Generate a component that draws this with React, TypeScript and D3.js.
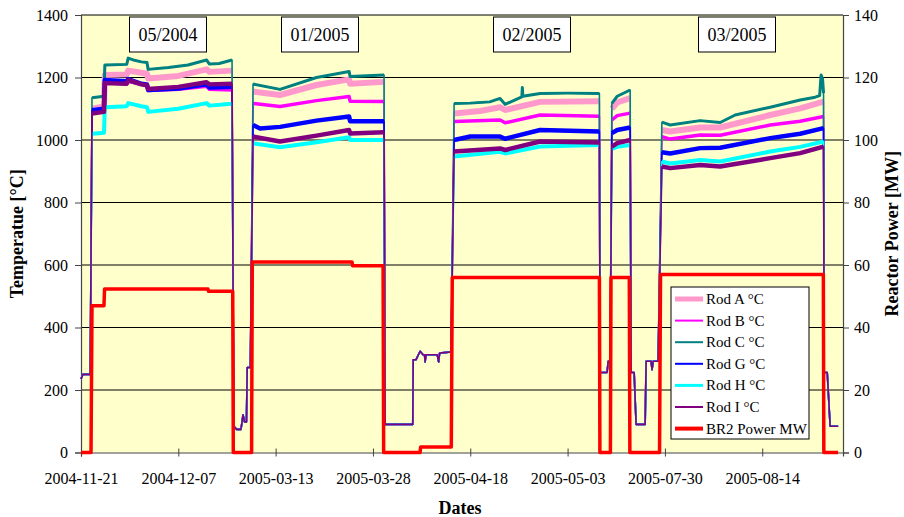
import React, {useRef, useEffect} from 'react';
import * as d3 from 'd3';

// x is the sample index of the logger, one date label every 100 samples
const dateLabels = ['2004-11-21', '2004-12-07', '2005-03-13', '2005-03-28', '2005-04-18', '2005-05-03', '2005-07-30', '2005-08-14'];
const tempTicks = [0, 200, 400, 600, 800, 1000, 1200, 1400];
const powerTicks = [0, 20, 40, 60, 80, 100, 120, 140];
const campaigns = ['05/2004', '01/2005', '02/2005', '03/2005'];

// periods with the reactor running
const cycles = [[11, 156], [176, 312], [383, 533], [545, 565], [596, 764]];

// reactor down: all rods read the same
const offline = [
    [0, 235], [2, 250], [9.5, 250],
    [157, 84], [160, 74], [164.4, 74], [166.5, 121], [168, 98], [170, 98], [170.8, 272], [174, 272],
    [312.5, 90], [340.9, 90], [341.4, 297], [344.3, 297], [348.4, 324], [351.5, 313], [353, 313], [353.6, 290], [354.5, 313],
    [366, 313], [367.5, 290], [368.5, 318], [380.3, 322],
    [533.4, 256], [540.6, 256], [541.7, 292], [543.7, 292],
    [565.3, 256], [568.4, 256], [570.4, 90], [579.7, 90], [580.7, 292], [585.8, 292], [586.8, 265], [587.9, 292], [593, 292],
    [763.7, 256], [766.8, 256], [769.8, 84], [778, 84]
];

const rodA = [
    [11.3, 1100], [23.6, 1107], [24.5, 1208], [47, 1210], [48.5, 1222], [62, 1215], [67.8, 1212], [69, 1197], [100, 1205], [129, 1226], [132, 1218], [155.2, 1222],
    [176.8, 1155], [204.5, 1144], [242, 1176], [275.5, 1194], [276.5, 1180], [311.4, 1186],
    [383.4, 1085], [410, 1093], [430.6, 1105], [435.8, 1096], [471.8, 1122], [532.7, 1124],
    [545.5, 1100], [551, 1120], [564.3, 1134],
    [596.9, 1032], [605.4, 1027], [636.2, 1040], [656.8, 1040], [708.2, 1080], [739, 1101], [763, 1123]
];
const rodB = [
    [11.3, 1090], [23.6, 1093], [24.5, 1183], [47, 1180], [48.5, 1188], [62, 1178], [67.8, 1175], [69, 1158], [100, 1162], [129, 1172], [132, 1162], [155.2, 1160],
    [176.8, 1117], [204.5, 1107], [242, 1126], [275.5, 1139], [276.5, 1124], [311.4, 1123],
    [383.4, 1059], [430.6, 1064], [435.8, 1055], [471.8, 1080], [532.7, 1076],
    [545.5, 1064], [551, 1078], [564.3, 1086],
    [596.9, 1011], [605.4, 1003], [636.2, 1016], [656.8, 1015], [708.2, 1048], [739, 1060], [763, 1075]
];
const rodC = [
    [11.3, 1135], [23.6, 1140], [24.5, 1240], [47, 1242], [48.5, 1262], [55, 1255], [62, 1250], [67.8, 1248], [69, 1226], [90, 1232], [110, 1240], [129, 1256], [132, 1243], [142, 1245], [155.2, 1256],
    [176.8, 1179], [204.5, 1162], [242, 1200], [275.5, 1219], [276.5, 1203], [311.4, 1208],
    [383.4, 1117], [400, 1118], [420, 1122], [430.6, 1133], [435.8, 1114], [453, 1138], [453.5, 1168], [454, 1140], [471.8, 1149], [500, 1150], [532.7, 1149],
    [545.5, 1117], [551, 1140], [564.3, 1160],
    [596.9, 1057], [605.4, 1048], [636.2, 1062], [656.8, 1056], [672.2, 1080], [708.2, 1105], [739, 1128], [754.4, 1137], [759, 1142], [760.5, 1208], [762, 1195], [763, 1150]
];
const rodG = [
    [11.3, 1095], [23.6, 1100], [24.5, 1192], [47, 1188], [48.5, 1195], [62, 1180], [67.8, 1178], [69, 1160], [100, 1165], [129, 1178], [132, 1168], [155.2, 1170],
    [176.8, 1048], [184, 1037], [204.5, 1042], [242, 1062], [275.5, 1075], [276.5, 1060], [311.4, 1060],
    [383.4, 1000], [400, 1011], [430.6, 1011], [435.8, 1004], [471.8, 1032], [532.7, 1027],
    [545.5, 1022], [551, 1032], [564.3, 1040],
    [596.9, 961], [605.4, 957], [636.2, 974], [656.8, 975], [708.2, 1006], [739, 1020], [763, 1038]
];
const rodH = [
    [11.3, 1020], [23.6, 1023], [24.5, 1105], [47, 1108], [48.5, 1118], [62, 1108], [67.8, 1105], [69, 1090], [100, 1100], [129, 1118], [132, 1110], [155.2, 1116],
    [176.8, 989], [204.5, 977], [242, 993], [275.5, 1009], [276.5, 1000], [311.4, 1000],
    [383.4, 947], [430.6, 962], [435.8, 957], [471.8, 979], [532.7, 984],
    [545.5, 972], [551, 978], [564.3, 984],
    [596.9, 931], [605.4, 925], [636.2, 936], [656.8, 931], [708.2, 963], [739, 978], [763, 995]
];
const rodI = [
    [11.3, 1085], [23.6, 1090], [24.5, 1182], [47, 1180], [48.5, 1192], [62, 1178], [67.8, 1175], [69, 1163], [100, 1170], [129, 1185], [132, 1178], [155.2, 1180],
    [176.8, 1011], [204.5, 995], [242, 1014], [275.5, 1032], [276.5, 1021], [311.4, 1025],
    [383.4, 963], [430.6, 973], [435.8, 968], [471.8, 995], [532.7, 992],
    [545.5, 979], [551, 990], [564.3, 1000],
    [596.9, 915], [605.4, 910], [636.2, 920], [656.8, 915], [708.2, 942], [739, 958], [763, 979]
];

// BR2 power in MW (right axis)
const power = [
    [0, 0], [10.3, 0], [11.3, 47], [23.6, 47], [24.2, 52.3], [130.5, 52.3], [131, 51.6], [155.9, 51.6], [156.5, 0],
    [175.3, 0], [176, 61], [278.5, 61], [279, 59.8], [310.4, 59.8], [311, 0],
    [348.4, 0], [349, 1.8], [380.5, 1.8], [381.5, 56], [532.7, 56], [533.2, 0],
    [544, 0], [544.6, 56], [563.4, 56], [564, 0],
    [594.5, 0], [595.5, 57], [762.8, 57], [763.3, 0], [778, 0]
];

const rods = [
    {name: 'Rod A °C', data: rodA, color: '#FF99CC', width: 6, legendWidth: 5},
    {name: 'Rod B °C', data: rodB, color: '#FF00FF', width: 3.5, legendWidth: 2},
    {name: 'Rod C °C', data: rodC, color: '#008080', width: 3, legendWidth: 2},
    {name: 'Rod G °C', data: rodG, color: '#0000FF', width: 4.5, legendWidth: 2},
    {name: 'Rod H °C', data: rodH, color: '#00FFFF', width: 4, legendWidth: 3},
    {name: 'Rod I °C', data: rodI, color: '#800080', width: 4.5, legendWidth: 2}
];

const App = () => {
    const svgRef = useRef(null);

    useEffect(() => {
        const width = 904, height = 517;
        const plot = {left: 81, right: 843, top: 15, bottom: 452.5};
        const font = "'Liberation Serif', 'Times New Roman', serif";

        const svg = d3.select(svgRef.current);
        svg.selectAll('*').remove();
        svg.attr('width', width).attr('height', height);

        const x = d3.scaleLinear().domain([0, 783]).range([plot.left, plot.right]);
        const yT = d3.scaleLinear().domain([0, 1400]).range([plot.bottom, plot.top]);
        const yP = d3.scaleLinear().domain([0, 140]).range([plot.bottom, plot.top]);

        svg.append('rect').attr('width', width).attr('height', height).attr('fill', '#fff');

        // plot area
        svg.append('rect')
            .attr('x', plot.left).attr('y', plot.top)
            .attr('width', plot.right - plot.left).attr('height', plot.bottom - plot.top)
            .attr('fill', '#FFFFCC');

        // grid lines
        svg.append('g').selectAll('line').data(tempTicks.filter(d => d > 0)).join('line')
            .attr('x1', plot.left).attr('x2', plot.right)
            .attr('y1', d => yT(d)).attr('y2', d => yT(d))
            .attr('stroke', '#000').attr('stroke-width', 1);

        // left axis
        const left = svg.append('g').attr('transform', `translate(${plot.left},0)`)
            .call(d3.axisLeft(yT).tickValues(tempTicks).tickFormat(d3.format('d')).tickSize(6).tickPadding(7));
        // right axis
        const right = svg.append('g').attr('transform', `translate(${plot.right},0)`)
            .call(d3.axisRight(yP).tickValues(powerTicks).tickFormat(d3.format('d')).tickSize(6).tickPadding(5));
        // bottom axis, ticks crossing the line
        const bottom = svg.append('g').attr('transform', `translate(0,${plot.bottom})`)
            .call(d3.axisBottom(x).tickValues(d3.range(dateLabels.length).map(i => i * 100))
                .tickFormat((d, i) => dateLabels[i]).tickSize(4).tickPadding(16));
        bottom.selectAll('.tick line').attr('y1', -4);

        [left, right, bottom].forEach(g => {
            g.select('.domain').attr('stroke', '#444').attr('stroke-width', 1.2);
            g.selectAll('.tick line').attr('stroke', '#444');
            g.selectAll('text').attr('font-family', font).attr('font-size', 16).attr('fill', '#000');
        });

        const line = d3.line().x(d => x(d[0])).y(d => yT(d[1]));
        const lineP = d3.line().x(d => x(d[0])).y(d => yP(d[1]));

        // rods: thin line through the whole record, wider band while the reactor runs
        const series = svg.append('g').attr('fill', 'none').attr('stroke-linejoin', 'round');
        rods.forEach(r => {
            const full = [...offline, ...r.data].sort((a, b) => a[0] - b[0]);
            series.append('path').attr('d', line(full))
                .attr('stroke', r.color).attr('stroke-width', 1.6);
            cycles.forEach(c => {
                const seg = r.data.filter(d => d[0] >= c[0] && d[0] <= c[1]);
                series.append('path').attr('d', line(seg))
                    .attr('stroke', r.color).attr('stroke-width', r.width);
            });
        });

        series.append('path').attr('d', lineP(power))
            .attr('stroke', '#FF0000').attr('stroke-width', 3.5);

        // campaign labels
        const boxes = [168, 320, 532, 737];
        const labels = svg.append('g');
        campaigns.forEach((c, i) => {
            labels.append('rect')
                .attr('x', boxes[i] - 38.5).attr('y', 17).attr('width', 77).attr('height', 35)
                .attr('fill', '#fff').attr('stroke', '#000').attr('stroke-width', 1);
            labels.append('text')
                .attr('x', boxes[i]).attr('y', 41)
                .attr('text-anchor', 'middle')
                .attr('font-family', font).attr('font-size', 18)
                .text(c);
        });

        // legend
        const lg = svg.append('g').attr('transform', 'translate(671,287)');
        lg.append('rect').attr('width', 138).attr('height', 152)
            .attr('fill', '#fff').attr('stroke', '#000').attr('stroke-width', 1);
        const items = [...rods, {name: 'BR2 Power MW', color: '#FF0000', legendWidth: 4}];
        items.forEach((it, i) => {
            const yy = 12 + i * 21.6;
            lg.append('line').attr('x1', 4).attr('x2', 32).attr('y1', yy).attr('y2', yy)
                .attr('stroke', it.color).attr('stroke-width', it.legendWidth);
            lg.append('text').attr('x', 35).attr('y', yy + 5)
                .attr('font-family', font).attr('font-size', 15)
                .text(it.name);
        });

        // axis titles
        const titleSize = 18;
        svg.append('text')
            .attr('transform', `translate(23,${(plot.top + plot.bottom) / 2}) rotate(-90)`)
            .attr('text-anchor', 'middle')
            .attr('font-family', font).attr('font-size', titleSize).attr('font-weight', 'bold')
            .text('Temperatue [°C]');
        svg.append('text')
            .attr('transform', `translate(898,${(plot.top + plot.bottom) / 2}) rotate(-90)`)
            .attr('text-anchor', 'middle')
            .attr('font-family', font).attr('font-size', titleSize).attr('font-weight', 'bold')
            .text('Reactor Power [MW]');
        svg.append('text')
            .attr('x', 460).attr('y', 514)
            .attr('text-anchor', 'middle')
            .attr('font-family', font).attr('font-size', titleSize).attr('font-weight', 'bold')
            .text('Dates');
    }, []);

    return <svg ref={svgRef} style={{position: 'absolute', left: 0, top: 0}}/>;
};

export default App;
